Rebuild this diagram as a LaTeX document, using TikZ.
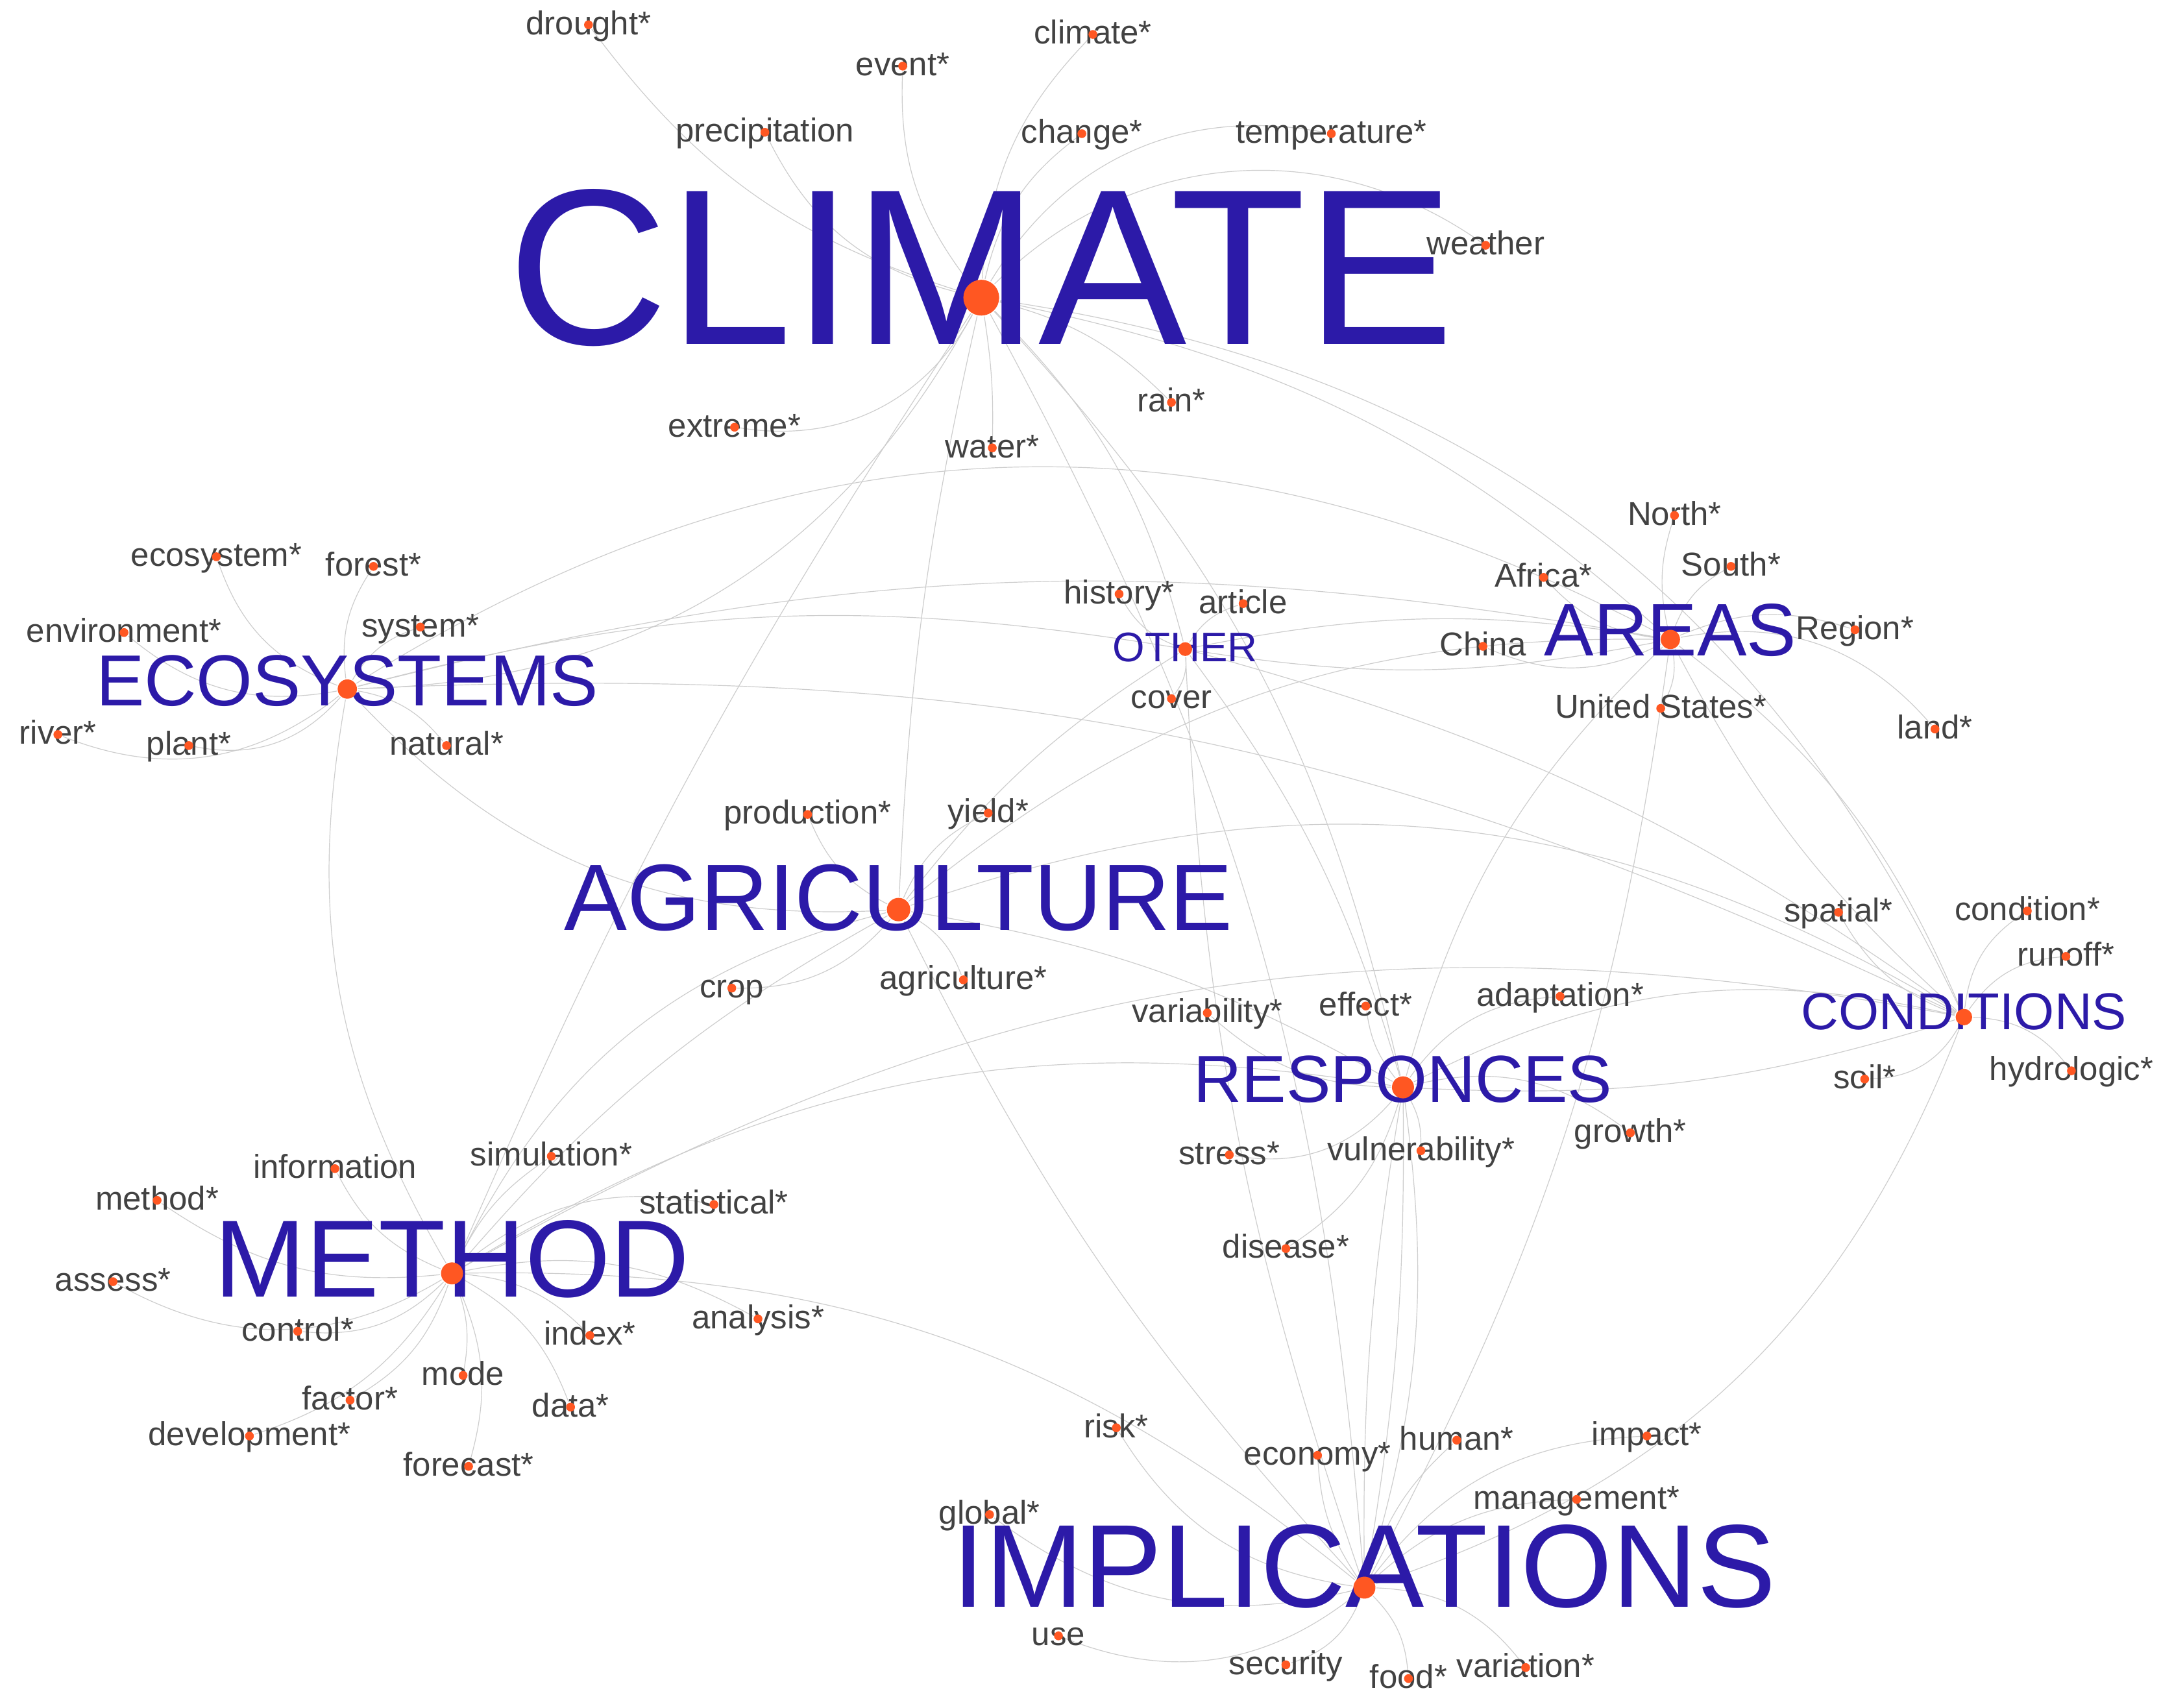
\documentclass[tikz,border=0pt]{standalone}
\usepackage{fontspec}
\setmainfont{Liberation Sans}
\pgfdeclarelayer{background}
\pgfsetlayers{background,main}
\definecolor{hubc}{RGB}{44,26,168}
\definecolor{dotc}{RGB}{255,87,34}
\definecolor{labc}{RGB}{66,66,66}
\definecolor{edgec}{RGB}{205,205,205}
\begin{document}
\begin{tikzpicture}[x=0.25pt,y=0.25pt,
  lab/.style={anchor=base, inner sep=0pt, text=labc, font=\fontsize{6}{6}\selectfont},
  hublab/.style={anchor=base, inner sep=0pt, text=hubc},
  dotn/.style={circle, fill=dotc, inner sep=0pt, minimum size=1.6pt},
  edge/.style={draw=edgec, line width=0.14pt}]
\useasboundingbox (0,0) rectangle (1568,-1239);

\def\hubs{712/216/C/CLIMATE/40.3/34/13, 252/500/E/ECOSYSTEMS/13.12/12/7,
  652/660/AG/AGRICULTURE/17.1/15/8.5, 860/471/O/OTHER/7.5/9/5,
  1212/464/AR/AREAS/13.5/12/7, 1425/738/CO/CONDITIONS/9.4/9/6,
  1018/789/R/RESPONCES/12.08/11/8, 328/924/M/METHOD/19.9/17/8,
  990/1152/I/IMPLICATIONS/21.4/14/8}

\def\sats{427/18/drought/drought*, 655/48/event/event*, 793/25/climatex/climate*,
  555/96/precip/precipitation, 785/97/change/change*, 966/97/temp/temperature*,
  1078/178/weather/weather, 533/310/extreme/extreme*, 720/325/water/water*, 850/292/rain/rain*,
  157/404/ecosys/ecosystem*, 271/411/forest/forest*, 90/459/environ/environment*,
  305/455/system/system*, 42/533/river/river*, 137/541/plant/plant*, 324/541/natural/natural*,
  586/591/production/production*, 717/590/yield/yield*, 531/717/crop/crop, 699/711/agric/agriculture*,
  812/431/history/history*, 902/438/article/article, 850/507/cover/cover,
  1215/374/north/North*, 1120/419/africa/Africa*, 1256/411/south/South*, 1076/469/china/China,
  1346/457/region/Region*, 1205/514/us/United States*, 1404/529/land/land*,
  1334/662/spatial/spatial*, 1471/661/condition/condition*, 1499/694/runoff/runoff*,
  1353/783/soil/soil*, 1503/777/hydro/hydrologic*,
  876/735/variab/variability*, 991/730/effect/effect*, 1132/723/adapt/adaptation*,
  1183/822/growth/growth*, 892/838/stress/stress*, 1031/835/vulner/vulnerability*, 933/906/disease/disease*,
  243/848/info/information, 400/839/simul/simulation*, 114/871/methodx/method*,
  518/874/statist/statistical*, 82/930/assess/assess*, 216/966/control/control*,
  428/969/index/index*, 550/957/analysis/analysis*, 336/998/mode/mode, 254/1016/factor/factor*,
  414/1021/data/data*, 181/1042/devel/development*, 340/1064/forecast/forecast*,
  810/1036/risk/risk*, 956/1056/economy/economy*, 1057/1045/human/human*, 1195/1042/impact/impact*,
  1144/1088/manage/management*, 718/1099/global/global*, 768/1187/use/use,
  933/1208/security/security, 1022/1218/food/food*, 1107/1210/variation/variation*}

% labels
\foreach \x/\y/\n/\t/\fs/\off/\r in \hubs {
  \node[hublab, font=\fontsize{\fs}{\fs}\selectfont] (\n-l) at (\x,-\y-\off) {\t};
}
\foreach \x/\y/\n/\t in \sats {
  \node[lab] (\n-l) at (\x,-\y-7) {\t};
}
% dots
\foreach \x/\y/\n/\t/\fs/\off/\r in \hubs {
  \node[dotn, minimum size=0.5*\r] (\n) at (\x,-\y) {};
}
\foreach \x/\y/\n/\t in \sats {
  \node[dotn] (\n) at (\x,-\y) {};
}

\begin{pgfonlayer}{background}
\fill[white] (0,0) rectangle (1568,-1239);
% hub to satellite edges
\foreach \s/\b in {drought/18, event/20, climatex/20, precip/25, change/20, temp/35, weather/40, extreme/35, water/5, rain/15}
  \draw[edge] (C) to[bend left=\b] (\s);
\foreach \s/\b in {ecosys/25, forest/20, environ/25, system/20, river/30, plant/30, natural/20}
  \draw[edge] (E) to[bend left=\b] (\s);
\foreach \s/\b in {production/20, yield/20, crop/25, agric/20}
  \draw[edge] (AG) to[bend left=\b] (\s);
\foreach \s/\b in {history/20, article/20, cover/20}
  \draw[edge] (O) to[bend left=\b] (\s);
\foreach \s/\b in {north/15, africa/20, south/20, china/25, region/20, us/20, land/30}
  \draw[edge] (AR) to[bend left=\b] (\s);
\foreach \s/\b in {spatial/20, condition/25, runoff/25, soil/30, hydro/25}
  \draw[edge] (CO) to[bend left=\b] (\s);
\foreach \s/\b in {variab/20, effect/15, adapt/25, growth/25, stress/30, vulner/15, disease/20}
  \draw[edge] (R) to[bend left=\b] (\s);
\foreach \s/\b in {info/20, simul/15, methodx/20, statist/25, assess/30, control/25, index/20, analysis/20, mode/15, factor/20, data/20, devel/20, forecast/20}
  \draw[edge] (M) to[bend left=\b] (\s);
\foreach \s/\b in {risk/25, economy/15, human/15, impact/25, manage/20, global/25, use/30, security/25, food/20, variation/25}
  \draw[edge] (I) to[bend left=\b] (\s);
% hub to hub edges
\foreach \a/\c/\b in {E/AR/30, E/AR/12, C/E/30, M/C/5, AG/C/5, C/O/15, C/R/15, C/I/12, C/AR/15, C/CO/28,
  E/O/12, E/CO/14, AG/E/25, M/E/20, AG/O/10, AG/AR/20, AG/CO/25, AG/R/10, AG/I/-8,
  M/AG/25, M/AG/10, M/R/20, M/CO/20, M/I/20, O/AR/10, AR/O/10, O/R/10, O/CO/10, O/I/-8,
  R/AR/15, AR/CO/15, CO/AR/10, AR/I/10, CO/I/25, R/CO/20, CO/R/10, R/I/5, I/R/5, R/I/12}
  \draw[edge] (\a) to[bend left=\b] (\c);
\end{pgfonlayer}
\end{tikzpicture}
\end{document}
